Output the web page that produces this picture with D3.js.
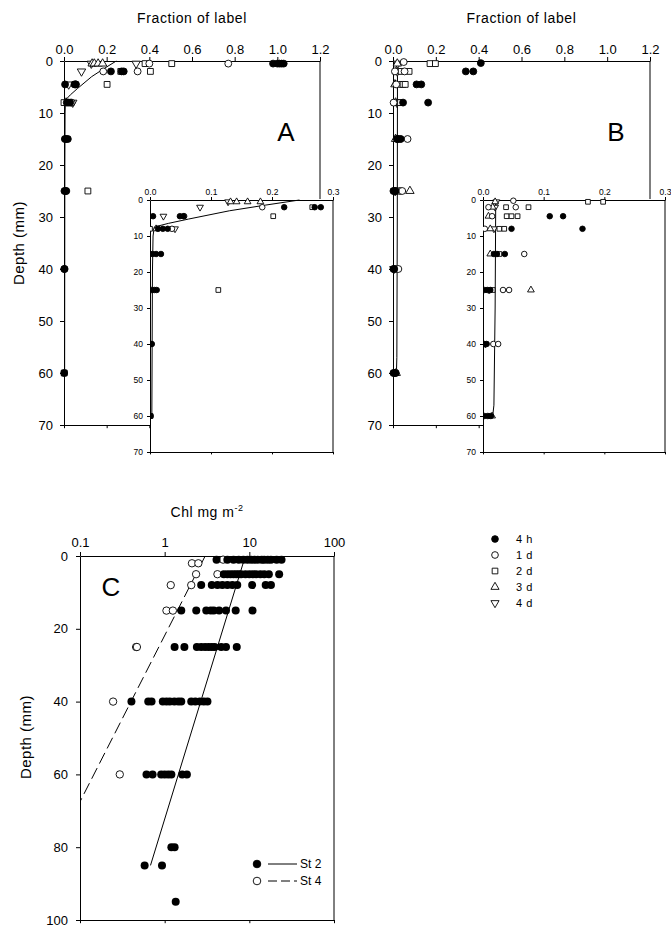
<!DOCTYPE html>
<html>
<head>
<meta charset="utf-8">
<script src="https://cdn.jsdelivr.net/npm/d3@7"></script>
<style>
    body { margin: 0; background: #fff; }
    svg text { font-family: "Liberation Sans", Arial, Helvetica, sans-serif; fill: #000; }
</style>
</head>
<body>
<div id="chart"></div>
<script>
// ---- data: [depth (mm), fraction of label] ----
const a_4h = [[0.5,0.98],[0.5,1.0],[0.5,1.01],[0.5,1.02],[0.5,1.03],[2,0.22],[2,0.27],[2,0.28],
              [4.5,0.005],[4.5,0.049],[4.5,0.055],[8,0.013],[8,0.021],[8,0.029],
              [15,0.004],[15,0.01],[15,0.018],[25,0.002],[25,0.007],[25,0.011],[40,0.001],[40,0.003],[60,0.001]];
const a_1d = [[0.5,0.40],[0.5,0.77],[2,0.184],[2,0.345],[4.5,0.056],[8,0.036]];
const a_2d = [[0.5,0.38],[0.5,0.505],[2,0.266],[2,0.405],[4.5,0.202],[8,0.0],[25,0.112],[60,0.001]];
const a_3d = [[0.5,0.132],[0.5,0.142],[0.5,0.16],[0.5,0.181],[8,0.01]];
const a_4d = [[0.5,0.128],[0.5,0.338],[2,0.082],[4.5,0.022],[8,0.041]];
const a_fit = [[0,0.245],[1.4,0.19],[3,0.13],[5.3,0.063],[6.5,0.03],[7.5,0.007],[10,0.005],[20,0.004],[60,0.003]];

const b_4h = [[0.4,0.41],[2,0.34],[2,0.375],[4.5,0.11],[4.5,0.132],[8,0.047],[8,0.164],
              [15,0.018],[15,0.023],[15,0.036],[25,0.002],[25,0.007],[25,0.012],
              [40,0.002],[40,0.006],[60,0.002],[60,0.008],[60,0.013]];
const b_1d = [[0.2,0.05],[2,0.009],[2,0.054],[4.5,0.015],[8,0.003],[15,0.068],[25,0.033],[25,0.043],[40,0.017],[40,0.025]];
const b_2d = [[0.5,0.173],[0.5,0.198],[2,0.038],[2,0.075],[4.5,0.039],[4.5,0.047],[4.5,0.057],[8,0.027],[8,0.035],[15,0.027],[25,0.016]];
const b_3d = [[0.5,0.02],[2,0.016],[4.5,0.009],[8,0.012],[15,0.012],[25,0.079],[60,0.015]];
const b_4d = [[0.5,0.022],[2,0.02],[8,0.018],[25,0.01],[40,0.004]];
const b_fit = [[0,0.021],[30,0.02],[57,0.018],[60,0.016]];

// ---- data: [depth (mm), Chl mg m-2] ----
const c_st2 = [[1,4.1],[1,5.5],[1,6.5],[1,7.5],[1,8.5],[1,9.5],[1,10.5],[1,11.5],[1,12.5],[1,14],[1,15],[1,16.5],[1,18],[1,21],[1,24],
               [5,5],[5,5.5],[5,6],[5,6.5],[5,7],[5,7.5],[5,8],[5,9],[5,10],[5,11],[5,12],[5,13.5],[5,15],[5,17],[5,22.5],
               [8,2.7],[8,3.6],[8,4.2],[8,4.8],[8,5.5],[8,6.3],[8,7.2],[8,10.8],[8,15.6],[8,18],
               [15,1.57],[15,2.36],[15,3.1],[15,3.5],[15,3.8],[15,4.4],[15,5.3],[15,6.9],[15,10.9],
               [25,1.31],[25,1.71],[25,2.4],[25,2.7],[25,3.0],[25,3.3],[25,3.6],[25,3.9],[25,4.65],[25,5.3],[25,7.1],
               [40,0.405],[40,0.64],[40,0.7],[40,0.95],[40,1.05],[40,1.15],[40,1.3],[40,1.45],[40,1.57],[40,2.06],[40,2.3],[40,2.6],[40,2.9],[40,3.2],
               [60,0.61],[60,0.72],[60,0.91],[60,1.0],[60,1.1],[60,1.2],[60,1.61],[60,1.83],
               [80,1.2],[80,1.31],[85,0.58],[85,0.93],[95,1.35]];
const c_st4 = [[2,2.1],[2,2.5],[1,4.9],[5,2.35],[5,4.2],[8,1.18],[8,2.06],[15,1.05],[15,1.25],[25,0.46],[25,0.47],[40,0.246],[60,0.295]];
const c_fit2 = [[0,8.97],[85,0.68]];
const c_fit4 = [[0,3.01],[67.5,0.1]];

// ---- ticks / labels ----
const depthTicks = [0,10,20,30,40,50,60,70];
const fracTicks = [0,0.2,0.4,0.6,0.8,1.0,1.2];
const insetTicks = [0,0.1,0.2,0.3];
const chlTicks = [0.1,1,10,100];
const chlDepthTicks = [0,20,40,60,80,100];
const seriesNames = ['4 h','1 d','2 d','3 d','4 d'];
const stationNames = ['St 2','St 4'];

const svg = d3.select('#chart').append('svg')
    .attr('width', 671).attr('height', 928);

const symCircle = d3.symbol().type(d3.symbolCircle),
      symSquare = d3.symbol().type(d3.symbolSquare),
      symTri = d3.symbol().type(d3.symbolTriangle);

// draw one marker kind; k = index in seriesNames
function marker(sel, k, size) {
    if (k === 0 || k === 1) {
        sel.append('path').attr('d', symCircle.size(size * 1.1)())
            .attr('fill', k === 0 ? '#000' : '#fff').attr('stroke', '#000').attr('stroke-width', 0.9);
    } else if (k === 2) {
        sel.append('path').attr('d', symSquare.size(size)())
            .attr('fill', '#fff').attr('stroke', '#000').attr('stroke-width', 0.9);
    } else {
        sel.append('path').attr('d', symTri.size(size * 0.9)())
            .attr('transform', k === 4 ? 'rotate(180)' : null)
            .attr('fill', '#fff').attr('stroke', '#000').attr('stroke-width', 0.9);
    }
}

function plotSeries(g, list, x, y, size, maxV) {
    // draw in reverse so filled circles are on top
    for (let k = list.length - 1; k >= 0; k--) {
        const pts = list[k].filter(d => d[1] <= maxV);
        g.selectAll('.s' + k).data(pts).enter().append('g')
            .attr('class', 's' + k)
            .attr('transform', d => 'translate(' + x(d[1]) + ',' + y(d[0]) + ')')
            .each(function () { marker(d3.select(this), k, size); });
    }
}

function styleAxis(a, fs) {
    a.selectAll('text').style('font-size', fs + 'px').attr('fill', '#000');
    a.selectAll('line').attr('stroke', '#000');
    a.select('.domain').attr('stroke', '#000');
}

function framePanel(x, y, o) {
    const [x0, x1] = x.range(), [y0, y1] = y.range();
    const g = svg.append('g');
    if (o.white) {
        g.append('rect').attr('x', x0).attr('y', y0 - 1).attr('width', x1 - x0 + 1).attr('height', y1 - y0 + 2)
            .attr('fill', '#fff');
    }
    const top = g.append('g').attr('transform', 'translate(0,' + y0 + ')')
        .call(d3.axisTop(x).tickValues(o.xTicks).tickFormat(o.xFormat).tickSize(o.tick).tickPadding(o.padX).tickSizeOuter(0));
    styleAxis(top, o.fs);
    const left = g.append('g').attr('transform', 'translate(' + x0 + ',0)')
        .call(d3.axisLeft(y).tickValues(o.yTicks).tickSize(o.tick).tickPadding(o.padY).tickSizeOuter(0));
    styleAxis(left, o.fs);
    const bottom = g.append('g').attr('transform', 'translate(0,' + y1 + ')')
        .call(d3.axisBottom(x).tickValues(o.xTicks).tickFormat('').tickSize(o.tick * 0.8).tickSizeOuter(0));
    styleAxis(bottom, o.fs);
    g.append('line').attr('x1', x1).attr('x2', x1).attr('y1', y0).attr('y2', y1)
        .attr('stroke', '#000').attr('stroke-width', 1);
    return g;
}

function clipFor(id, x, y) {
    const [x0, x1] = x.range(), [y0, y1] = y.range();
    svg.append('clipPath').attr('id', id).append('rect')
        .attr('x', x0).attr('y', y0 - 6).attr('width', x1 - x0).attr('height', y1 - y0 + 6);
    return 'url(#' + id + ')';
}

const fitLine = (x, y) => d3.line().x(d => x(d[1])).y(d => y(d[0]));

// ---- panels A and B ----
function fractionPanel(xr, ixr, series, fit, letter) {
    const x = d3.scaleLinear().domain([0, 1.2]).range(xr),
          y = d3.scaleLinear().domain([0, 70]).range([61, 425]);
    framePanel(x, y, {xTicks: fracTicks, yTicks: depthTicks, xFormat: d3.format('.1f'),
                      tick: 4, padX: 3, padY: 7, fs: 13});
    svg.append('text').attr('x', (xr[0] + xr[1]) / 2).attr('y', 23).attr('text-anchor', 'middle')
        .style('font-size', '14px').style('letter-spacing', '0.6px').text('Fraction of label');
    svg.append('text').attr('x', xr[1] - 34).attr('y', 141).attr('text-anchor', 'middle')
        .style('font-size', '26px').text(letter);
    const gm = svg.append('g');
    gm.append('path').datum(fit).attr('d', fitLine(x, y)).attr('fill', 'none')
        .attr('stroke', '#000').attr('stroke-width', 1);
    plotSeries(gm, series, x, y, 34, 1.2);

    // inset
    const ix = d3.scaleLinear().domain([0, 0.3]).range(ixr),
          iy = d3.scaleLinear().domain([0, 70]).range([200, 452]);
    framePanel(ix, iy, {xTicks: insetTicks, yTicks: depthTicks, xFormat: d3.format('.1f'),
                        tick: 3, padX: 2, padY: 4, fs: 8.5, white: true});
    const gi = svg.append('g').attr('clip-path', clipFor('clip' + letter, ix, iy));
    gi.append('path').datum(fit).attr('d', fitLine(ix, iy)).attr('fill', 'none')
        .attr('stroke', '#000').attr('stroke-width', 1);
    plotSeries(gi, series, ix, iy, 22, 0.3);
}

fractionPanel([64, 320], [150, 333], [a_4h, a_1d, a_2d, a_3d, a_4d], a_fit, 'A');
fractionPanel([393, 650], [483, 665], [b_4h, b_1d, b_2d, b_3d, b_4d], b_fit, 'B');

svg.append('text').attr('transform', 'translate(24,243) rotate(-90)').attr('text-anchor', 'middle')
    .style('font-size', '15px').style('letter-spacing', '0.5px').text('Depth (mm)');

// ---- legend for A/B ----
const leg = svg.append('g');
seriesNames.forEach(function (name, k) {
    const yy = 539 + k * 16;
    const m = leg.append('g').attr('transform', 'translate(495,' + yy + ')');
    marker(m, k, 32);
    leg.append('text').attr('x', 516).attr('y', yy + 4).style('font-size', '11px')
        .style('letter-spacing', '0.6px').text(name);
});

// ---- panel C ----
const cx = d3.scaleLog().domain([0.1, 100]).range([80, 334]),
      cy = d3.scaleLinear().domain([0, 100]).range([556, 920]);
framePanel(cx, cy, {xTicks: chlTicks, yTicks: chlDepthTicks, xFormat: d3.format('~g'),
                    tick: 4, padX: 5, padY: 8, fs: 13});
const chlLabel = svg.append('text').attr('x', 207).attr('y', 517).attr('text-anchor', 'middle')
    .style('font-size', '14px').style('letter-spacing', '0.5px');
chlLabel.append('tspan').text('Chl mg m');
chlLabel.append('tspan').attr('dy', -6).style('font-size', '9px').text('-2');
svg.append('text').attr('x', 111).attr('y', 596).attr('text-anchor', 'middle')
    .style('font-size', '26px').text('C');
svg.append('text').attr('transform', 'translate(31,737) rotate(-90)').attr('text-anchor', 'middle')
    .style('font-size', '15px').style('letter-spacing', '0.5px').text('Depth (mm)');

const gc = svg.append('g').attr('clip-path', clipFor('clipC', cx, cy));
gc.append('path').datum(c_fit2).attr('d', fitLine(cx, cy)).attr('fill', 'none')
    .attr('stroke', '#000').attr('stroke-width', 1);
gc.append('path').datum(c_fit4).attr('d', fitLine(cx, cy)).attr('fill', 'none')
    .attr('stroke', '#000').attr('stroke-width', 1).attr('stroke-dasharray', '12,5');
gc.selectAll('.st4').data(c_st4).enter().append('circle').attr('class', 'st4')
    .attr('cx', d => cx(d[1])).attr('cy', d => cy(d[0])).attr('r', 3.7)
    .attr('fill', '#fff').attr('stroke', '#000').attr('stroke-width', 0.9);
gc.selectAll('.st2').data(c_st2).enter().append('circle').attr('class', 'st2')
    .attr('cx', d => cx(d[1])).attr('cy', d => cy(d[0])).attr('r', 4)
    .attr('fill', '#000');

// legend for C
stationNames.forEach(function (name, k) {
    const yy = 864 + k * 17;
    svg.append('circle').attr('cx', 257).attr('cy', yy).attr('r', 3.8)
        .attr('fill', k === 0 ? '#000' : '#fff').attr('stroke', '#000').attr('stroke-width', 0.9);
    svg.append('line').attr('x1', 268).attr('x2', 297).attr('y1', yy).attr('y2', yy)
        .attr('stroke', '#000').attr('stroke-width', 1)
        .attr('stroke-dasharray', k === 0 ? null : '9,4');
    svg.append('text').attr('x', 300).attr('y', yy + 4).style('font-size', '12px').text(name);
});
</script>
</body>
</html>
